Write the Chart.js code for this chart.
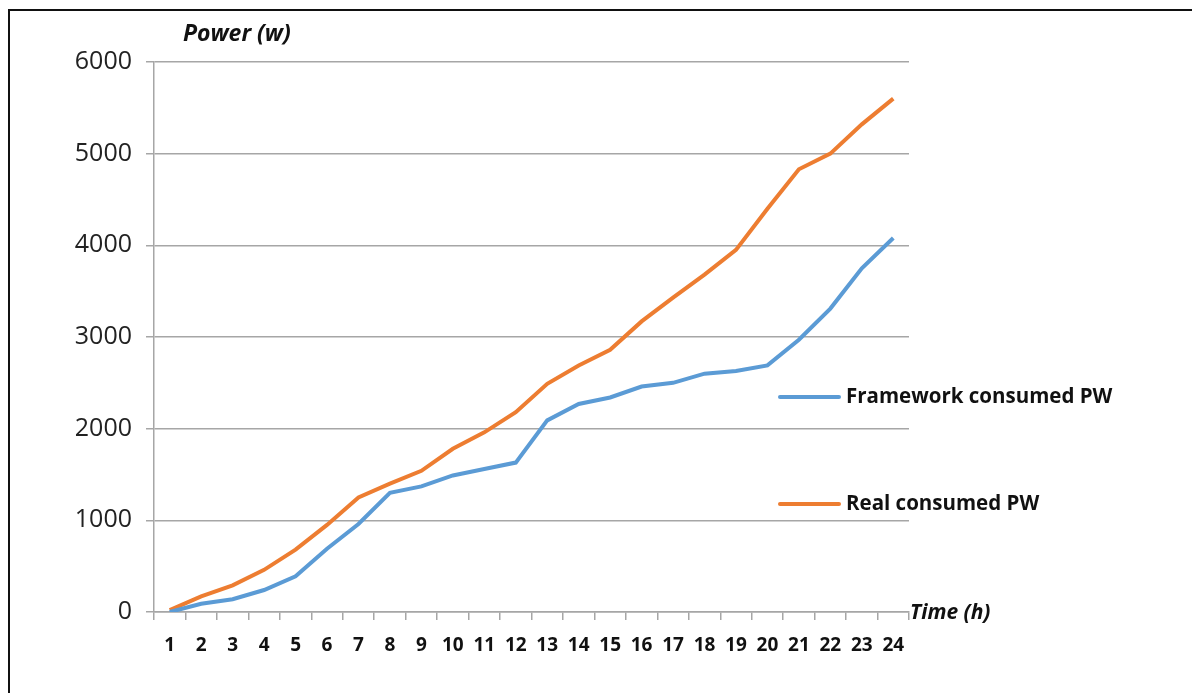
<!DOCTYPE html>
<html>
<head>
<meta charset="utf-8">
<script src="https://cdn.jsdelivr.net/npm/chart.js@4.4.1/dist/chart.umd.min.js"></script>
<style>
  html, body { margin: 0; padding: 0; background: #fff; }
  #wrap { position: relative; width: 1192px; height: 693px; }
  #frame { position: absolute; left: 8px; top: 9px; right: 0; bottom: 0;
           border-top: 2px solid #111; border-left: 2px solid #111; pointer-events: none; }
  canvas { position: absolute; left: 0; top: 0; }
</style>
</head>
<body>
<div id="wrap">
  <canvas id="powerChart" width="1192" height="693"></canvas>
  <div id="frame"></div>
</div>
<script>
// hours 1..24
const hours = ['1','2','3','4','5','6','7','8','9','10','11','12','13','14','15','16','17','18','19','20','21','22','23','24'];

// framework estimate (w)
const frameworkPW = [0, 90, 140, 240, 390, 690, 960, 1300, 1370, 1490, 1560, 1630,
                     2090, 2270, 2340, 2460, 2500, 2600, 2630, 2690, 2970, 3310, 3750, 4080];

// measured (w)
const realPW = [20, 170, 290, 460, 680, 950, 1250, 1400, 1540, 1780, 1960, 2180,
                2490, 2690, 2860, 3170, 3430, 3680, 3950, 4400, 4830, 5000, 5320, 5600];

const yTicks = [0, 1000, 2000, 3000, 4000, 5000, 6000];

const FONT = '"Open Sans", Lato, sans-serif';
const GRID = '#a6a6a6';

// legend + axis titles drawn by hand, Excel style
const extrasPlugin = {
    id: 'extras',
    afterDraw(chart) {
        const ctx = chart.ctx;
        const area = chart.chartArea;
        ctx.save();
        ctx.fillStyle = '#111';
        ctx.textBaseline = 'middle';
        ctx.textAlign = 'left';
        ctx.font = 'italic bold 23px ' + FONT;
        ctx.fillText('Power (w)', 183, 34);
        ctx.font = 'italic bold 21px ' + FONT;
        ctx.fillText('Time (h)', area.right + 1, area.bottom + 1);

        const legendY = [397, 504];
        ctx.font = 'bold 20.5px ' + FONT;
        chart.data.datasets.forEach((ds, i) => {
            ctx.strokeStyle = ds.borderColor;
            ctx.lineWidth = 4;
            ctx.lineCap = 'round';
            ctx.beginPath();
            ctx.moveTo(780, legendY[i]);
            ctx.lineTo(839, legendY[i]);
            ctx.stroke();
            ctx.fillStyle = '#111';
            ctx.fillText(ds.label, 846, legendY[i]);
        });
        ctx.restore();
    }
};

const ctx = document.getElementById('powerChart').getContext('2d');
new Chart(ctx, {
    type: 'line',
    data: {
        labels: hours,
        datasets: [
            {
                label: 'Framework consumed PW',
                data: frameworkPW,
                borderColor: '#5b9bd5',
                backgroundColor: '#5b9bd5',
                borderWidth: 4,
                pointRadius: 0,
                tension: 0,
                fill: false
            },
            {
                label: 'Real consumed PW',
                data: realPW,
                borderColor: '#ed7d31',
                backgroundColor: '#ed7d31',
                borderWidth: 4,
                pointRadius: 0,
                tension: 0,
                fill: false
            }
        ]
    },
    options: {
        responsive: false,
        animation: false,
        layout: { padding: { top: 62, right: 283, left: 0, bottom: 0 } },
        plugins: {
            legend: { display: false },
            tooltip: { enabled: false }
        },
        scales: {
            x: {
                offset: true,
                afterFit(scale) { scale.height = 81; },
                grid: {
                    offset: true,
                    drawOnChartArea: false,
                    drawTicks: true,
                    tickLength: 8,
                    color: GRID,
                    lineWidth: 1.5
                },
                border: { display: true, color: GRID, width: 1.5 },
                ticks: {
                    color: '#111',
                    padding: 14,
                    maxRotation: 0,
                    autoSkip: false,
                    font: { family: FONT, size: 19, weight: 'bold' }
                }
            },
            y: {
                min: 0,
                max: 6000,
                afterFit(scale) { scale.width = 154; },
                afterBuildTicks(scale) { scale.ticks = yTicks.map(v => ({ value: v })); },
                grid: {
                    color: GRID,
                    lineWidth: 1.5,
                    tickLength: 8
                },
                border: { display: true, color: GRID, width: 1.5 },
                ticks: {
                    color: '#222',
                    padding: 14,
                    font: { family: FONT, size: 25 },
                    callback: v => String(v)
                }
            }
        }
    },
    plugins: [extrasPlugin]
});
</script>
</body>
</html>
